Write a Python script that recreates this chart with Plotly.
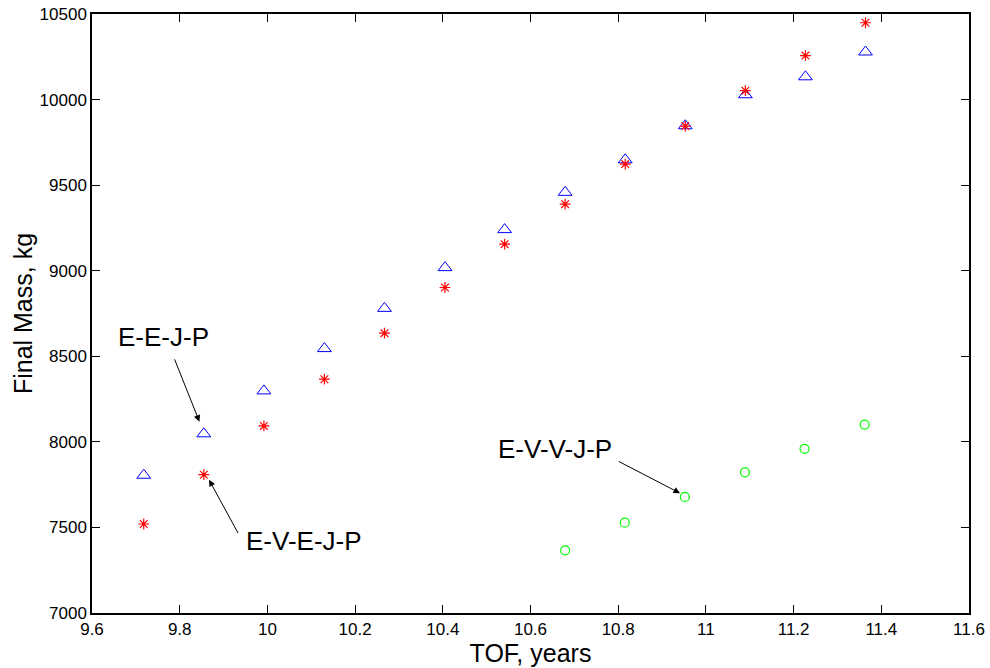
import plotly.graph_objects as go

tof = [9.718, 9.855, 9.992, 10.130, 10.267, 10.405, 10.541, 10.679, 10.816, 10.953, 11.090, 11.227, 11.364]
mass_eejp = [7805, 8047, 8298, 8545, 8780, 9018, 9240, 9458, 9648, 9847, 10028, 10133, 10278]
mass_evejp = [7520, 7808, 8093, 8366, 8635, 8902, 9155, 9389, 9623, 9845, 10052, 10257, 10449]
tof_evvjp = [10.679, 10.815, 10.952, 11.089, 11.225, 11.362]
mass_evvjp = [7366, 7528, 7678, 7822, 7959, 8101]

x_ticks = [9.6, 9.8, 10, 10.2, 10.4, 10.6, 10.8, 11, 11.2, 11.4, 11.6]
x_tick_text = ["9.6", "9.8", "10", "10.2", "10.4", "10.6", "10.8", "11", "11.2", "11.4", "11.6"]
y_ticks = [7000, 7500, 8000, 8500, 9000, 9500, 10000, 10500]
y_tick_text = ["7000", "7500", "8000", "8500", "9000", "9500", "10000", "10500"]

fig = go.Figure()
fig.add_trace(go.Scatter(x=tof, y=mass_eejp, mode="markers", name="E-E-J-P",
                         marker=dict(symbol="triangle-up-open", size=12, color="#0000ff",
                                     line=dict(width=1, color="#0000ff"))))
fig.add_trace(go.Scatter(x=tof, y=mass_evejp, mode="markers", name="E-V-E-J-P",
                         marker=dict(symbol="asterisk-open", size=9, color="#ff0000",
                                     line=dict(width=1.2, color="#ff0000"))))
fig.add_trace(go.Scatter(x=tof_evvjp, y=mass_evvjp, mode="markers", name="E-V-V-J-P",
                         marker=dict(symbol="circle-open", size=9, color="#00ff00",
                                     line=dict(width=1.2, color="#00ff00"))))

font_main = "Liberation Sans, Arial, sans-serif"
ann_font = dict(family=font_main, size=26, color="black")

# text labels
fig.add_annotation(x=9.763, y=8610, text="E-E-J-P", showarrow=False, font=ann_font,
                   xref="x", yref="y")
fig.add_annotation(x=10.083, y=7420, text="E-V-E-J-P", showarrow=False, font=ann_font,
                   xref="x", yref="y")
fig.add_annotation(x=10.656, y=7960, text="E-V-V-J-P", showarrow=False, font=ann_font,
                   xref="x", yref="y")

# arrows
arrow_common = dict(text="", showarrow=True, arrowhead=2, arrowsize=1.3, arrowwidth=1,
                    arrowcolor="black", xref="x", yref="y", axref="x", ayref="y", standoff=0)
fig.add_annotation(x=9.845, y=8118, ax=9.787, ay=8491, **arrow_common)
fig.add_annotation(x=9.867, y=7778, ax=9.935, ay=7458, **arrow_common)
fig.add_annotation(x=10.941, y=7700, ax=10.798, ay=7890, **arrow_common)

fig.update_layout(
    width=990, height=668,
    paper_bgcolor="white", plot_bgcolor="white",
    margin=dict(l=92, r=21, t=14, b=55, autoexpand=False),
    showlegend=False,
    font=dict(family=font_main, size=17, color="black"),
    xaxis=dict(range=[9.6, 11.6], tickvals=x_ticks, ticktext=x_tick_text,
               ticks="inside", ticklen=8, tickwidth=1, tickcolor="black",
               showline=True, linecolor="black", linewidth=1.5, mirror="ticks",
               showgrid=False, zeroline=False, automargin=False, ticklabeloverflow="allow",
               title=dict(text="TOF, years", font=dict(size=25), standoff=1)),
    yaxis=dict(range=[7000, 10500], tickvals=y_ticks, ticktext=y_tick_text,
               ticks="inside", ticklen=8, tickwidth=1, tickcolor="black",
               showline=True, linecolor="black", linewidth=1.5, mirror="ticks",
               showgrid=False, zeroline=False, automargin=False, ticklabeloverflow="allow",
               title=dict(text="Final Mass, kg", font=dict(size=25), standoff=0)),
)

fig.write_html("out.html", config={"displayModeBar": False},
               post_script="document.body.style.margin='0';")
